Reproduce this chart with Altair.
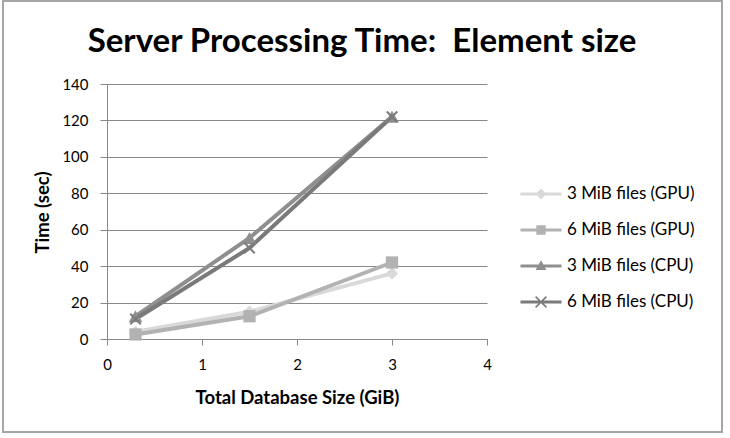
import altair as alt
import pandas as pd

# ---- data ----
series = ["3 MiB files (GPU)", "6 MiB files (GPU)", "3 MiB files (CPU)", "6 MiB files (CPU)"]
db_size_gib = [0.3, 1.5, 3.0]
gpu_3mib = [4.0, 15.0, 36.0]
gpu_6mib = [2.5, 12.5, 42.0]
cpu_3mib = [12.5, 55.5, 122.0]
cpu_6mib = [11.0, 50.0, 122.0]
x_ticks = [0, 1, 2, 3, 4]
y_ticks = [0, 20, 40, 60, 80, 100, 120, 140]

colors = ["#d9d9d9", "#b2b2b2", "#8f8f8f", "#7a7a7a"]
marker_shapes = ["diamond", "square", "triangle-up", "M-1,-1L1,1M1,-1L-1,1"]

# legend symbols: a line segment with the marker on it (filled polygons)
line_seg = "M-1.14,-0.09L1.14,-0.09L1.14,0.09L-1.14,0.09Z"
legend_paths = [
    line_seg + "M-0.3,0L0,-0.3L0.3,0L0,0.3Z",
    line_seg + "M-0.26,-0.26L0.26,-0.26L0.26,0.26L-0.26,0.26Z",
    line_seg + "M0,-0.32L0.3,0.22L-0.3,0.22Z",
    line_seg + "M-0.33,-0.27L-0.27,-0.33L0.33,0.27L0.27,0.33Z"
    + "M0.27,-0.33L0.33,-0.27L-0.27,0.33L-0.33,0.27Z",
]

rows = []
for s, vals in zip(series, [gpu_3mib, gpu_6mib, cpu_3mib, cpu_6mib]):
    for i, (xv, yv) in enumerate(zip(db_size_gib, vals)):
        rows.append({"series": s, "size": xv, "time": yv, "order": i})
df = pd.DataFrame(rows)

FONT = "Lato"
GRID = "#888888"

# three scales with the same mapping; different domain orders keep the
# (hidden) stroke/fill legends from being merged with the visible one
color_scale = alt.Scale(domain=series, range=colors)
stroke_scale = alt.Scale(domain=series[::-1], range=colors[::-1])
fill_scale = alt.Scale(domain=series[1:] + series[:1], range=colors[1:] + colors[:1])

x_enc = alt.X(
    "size:Q",
    scale=alt.Scale(domain=[0, 4], nice=False),
    axis=alt.Axis(
        values=x_ticks, grid=False, domainColor=GRID, tickColor=GRID, tickSize=6,
        labelPadding=12, labelFlush=False, labelFont=FONT, labelFontSize=15,
        labelColor="black",
        title="Total Database Size (GiB)", titleFont=FONT, titleFontSize=18.5,
        titleFontWeight="bold", titleColor="black", titleY=58, titleBaseline="middle",
    ),
)
y_enc = alt.Y(
    "time:Q",
    scale=alt.Scale(domain=[0, 140], nice=False),
    axis=alt.Axis(
        values=y_ticks, grid=True, gridColor=GRID, gridWidth=1, domainColor=GRID,
        tickColor=GRID, tickSize=7, labelPadding=12, labelFont=FONT, labelFontSize=15,
        labelColor="black", title="Time (sec)", titleFont=FONT, titleFontSize=18.5,
        titleFontWeight="bold", titleColor="black", titleX=-65, titleY=128,
        titleAngle=270, titleBaseline="middle", titleAlign="center",
    ),
)

base = alt.Chart(df)

lines = base.mark_line(strokeWidth=4).encode(
    x=x_enc, y=y_enc,
    stroke=alt.Stroke("series:N", scale=stroke_scale, legend=None),
    order="order:Q",
)

marker_layers = []
for s, shp in zip(series, marker_shapes):
    if shp.startswith("M"):
        mk = base.mark_point(shape=shp, filled=False, size=110, strokeWidth=2, opacity=1).encode(
            stroke=alt.Stroke("series:N", scale=stroke_scale, legend=None)
        )
    else:
        sz = 190 if shp == "triangle-up" else 150
        mk = base.mark_point(shape=shp, filled=True, size=sz, opacity=1).encode(
            fill=alt.Fill("series:N", scale=fill_scale, legend=None)
        )
    marker_layers.append(
        mk.transform_filter(alt.datum.series == s).encode(x=x_enc, y=y_enc)
    )

legend_def = alt.Legend(
    orient="none", legendX=416, legendY=92, title=None, padding=0,
    symbolSize=1296, symbolStrokeWidth=0, rowPadding=10, labelOffset=8,
    labelFont=FONT, labelFontSize=17, labelColor="black",
)
# carrier layer for the legend (no visible marks)
legend_layer = base.transform_filter("datum.size < 0").mark_point(filled=True, opacity=1).encode(
    x=x_enc, y=y_enc,
    color=alt.Color("series:N", scale=color_scale, legend=legend_def),
    shape=alt.Shape("series:N", scale=alt.Scale(domain=series, range=legend_paths), legend=legend_def),
)

border = alt.Chart(pd.DataFrame({"k": [0]})).mark_rect(
    fill="transparent", stroke="#a6a6a6", strokeWidth=2
).encode(x=alt.value(-104), x2=alt.value(615), y=alt.value(-83), y2=alt.value(348))

chart = alt.layer(border, lines, *marker_layers, legend_layer).properties(
    width=380,
    height=255,
    title=alt.TitleParams(
        text="Server Processing Time:\u00a0 Element size", font=FONT, fontSize=33,
        fontWeight="bold", color="black", anchor="middle", frame="group", dx=65, offset=-59,
    ),
    autosize=alt.AutoSizeParams(type="none"),
    padding={"left": 107, "top": 84, "right": 243, "bottom": 99},
    background="white",
).configure_view(strokeWidth=0)

chart.save("out.html", embed_options={"renderer": "svg", "actions": False})
